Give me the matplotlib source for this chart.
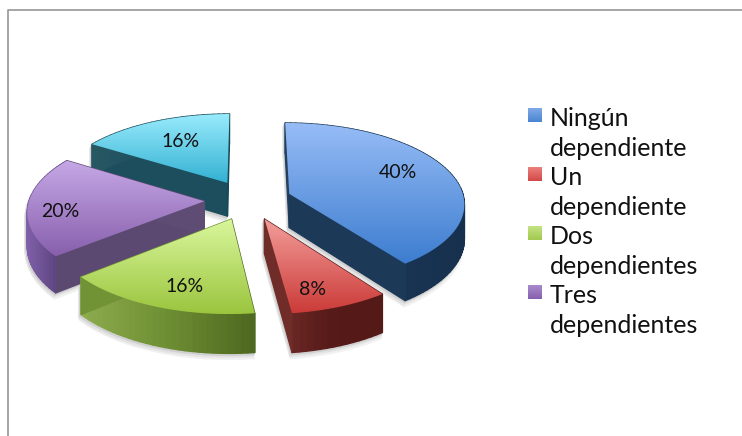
import numpy as np
import matplotlib
matplotlib.use('Agg')
import matplotlib.pyplot as plt
from matplotlib.collections import PolyCollection
from matplotlib.colors import LinearSegmentedColormap
from matplotlib.patches import Polygon

plt.rcParams['font.family'] = ['Lato', 'DejaVu Sans']

# data
values = [40, 8, 16, 20, 16]
pct_labels = ['40%', '8%', '16%', '20%', '16%']
legend_labels = ['Ningún\ndependiente', 'Un\ndependiente', 'Dos\ndependientes', 'Tres\ndependientes']

# colours
top_light = ['#96bcf6', '#f39e9b', '#d9f69c', '#c6a8e6', '#98eafc']
top_dark = ['#3d7dcf', '#cb3b38', '#9bc53e', '#8860ad', '#33b1d2']
side_colors = [
    ['#24405f', '#1a3655', '#16304d'],
    ['#702c28', '#561a18', '#541a17'],
    ['#8cab4d', '#6e8e33', '#4e6921'],
    ['#7f5fa8', '#3f2d5b', '#5f4c74'],
    ['#275763', '#1c4e5d', '#174a58'],
]
legend_light = ['#7fa9e6', '#ec7f7c', '#c3e384', '#a88ccb']
legend_dark = ['#4a85d3', '#d24a47', '#a2c94f', '#8660b0']

# pie geometry in pixels
cx, cy = 248, 200
R, q = 175, 80
persp = 0.11
depth = 34
explode = 0.25
label_r = [0.68, 0.78, 0.74, 0.81, 0.62]
label_dx = [0, -10, 7, -1, 0]
label_dy = [-5, 4, 5, 6, -2]


def project(u, v):
    s = 1 / (1 + persp * v)
    return cx + R * u * s, cy - q * v * s, s


def gradient(ax, path_xy, c1, c2):
    # vertical gradient, clipped to the polygon
    cm = LinearSegmentedColormap.from_list('g', [c1, c2])
    xs, ys = path_xy[:, 0], path_xy[:, 1]
    im = ax.imshow(np.linspace(0, 1, 128)[:, None], cmap=cm, aspect='auto',
                   extent=(xs.min(), xs.max(), ys.max(), ys.min()), zorder=5)
    clip = Polygon(path_xy, closed=True, transform=ax.transData, fc='none', ec='none')
    ax.add_patch(clip)
    im.set_clip_path(clip)


fig = plt.figure(figsize=(7.42, 4.36), dpi=100)
ax = fig.add_axes([0, 0, 1, 1])

# build slices
edges = np.cumsum([0] + values) / sum(values) * 2 * np.pi
slices = []
for i in range(len(values)):
    a0, a1 = edges[i], edges[i + 1]
    mid = (a0 + a1) / 2
    ou, ov = explode * np.sin(mid), explode * np.cos(mid)
    t = np.linspace(a0, a1, max(8, int((a1 - a0) * 30)))
    u = np.r_[ou, ou + np.sin(t)]
    v = np.r_[ov, ov + np.cos(t)]
    x, y, s = project(u, v)
    top = np.c_[x, y]
    bottom = np.c_[x, y + depth * s]
    quads = []
    for j in range(len(top)):
        k = (j + 1) % len(top)
        quads.append([top[j], top[k], bottom[k], bottom[j]])
    lu = ou + label_r[i] * np.sin(mid)
    lv = ov + label_r[i] * np.cos(mid)
    lx, ly, _ = project(lu, lv)
    slices.append(dict(top=top, bottom=bottom, quads=np.array(quads), ov=ov,
                       label=(lx + label_dx[i], ly + label_dy[i]), i=i))

# soft shadow behind everything
for off, col in [((-1, 6), '#f1f1f1'), ((-2, 4), '#e4e4e4'), ((-1, 2), '#d0d0d0')]:
    for sl in slices:
        pc = PolyCollection(sl['quads'] + np.array(off), facecolors=col, edgecolors=col, lw=1, zorder=2)
        ax.add_collection(pc)

# back slices first
for sl in sorted(slices, key=lambda d: -d['ov']):
    i = sl['i']
    quads = sl['quads']
    xm = quads[:, :, 0].mean(axis=1)
    xn = (xm - xm.min()) / (xm.max() - xm.min())
    cm = LinearSegmentedColormap.from_list('s', side_colors[i])
    cols = cm(xn)
    ax.add_collection(PolyCollection(quads, facecolors=cols, edgecolors=cols, lw=1.0, zorder=4))
    gradient(ax, sl['top'], top_light[i], top_dark[i])
    ax.text(sl['label'][0], sl['label'][1], pct_labels[i], fontsize=14, color='#111111',
            ha='center', va='center', zorder=8)

# legend, drawn by hand because each entry wraps on two lines
ly = 107
for i, lab in enumerate(legend_labels):
    cm = LinearSegmentedColormap.from_list('l', [legend_light[i], legend_dark[i]])
    im = ax.imshow(np.linspace(0, 1, 32)[:, None], cmap=cm, aspect='auto',
                   extent=(528, 542, ly + 59 * i + 15, ly + 59 * i + 1), zorder=5)
    ax.text(550, ly + 59 * i, lab, fontsize=18, color='#111111', va='top', ha='left',
            linespacing=1.36, zorder=8)

# frame of the screenshot, only top and left
ax.plot([8, 8, 742], [436, 10, 10], color='#969696', lw=1.2, zorder=9)

ax.set_xlim(0, 742)
ax.set_ylim(436, 0)
ax.axis('off')
fig.savefig('out.png', dpi=100)
